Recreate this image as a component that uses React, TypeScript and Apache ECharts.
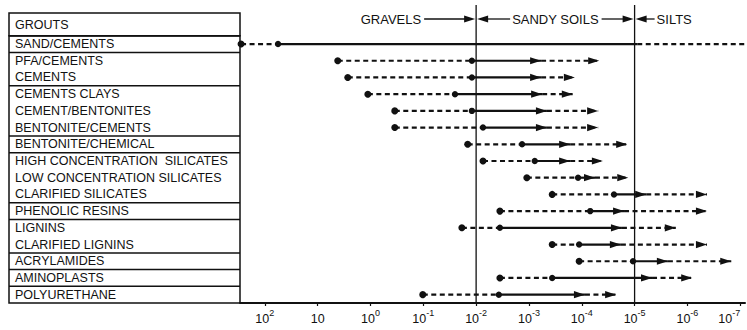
import React, { useEffect, useRef } from "react";
import * as echarts from "echarts";

// Grout types (rows of the table)
const grouts = [
  "SAND/CEMENTS",
  "PFA/CEMENTS",
  "CEMENTS",
  "CEMENTS CLAYS",
  "CEMENT/BENTONITES",
  "BENTONITE/CEMENTS",
  "BENTONITE/CHEMICAL",
  "HIGH CONCENTRATION  SILICATES",
  "LOW CONCENTRATION SILICATES",
  "CLARIFIED SILICATES",
  "PHENOLIC RESINS",
  "LIGNINS",
  "CLARIFIED LIGNINS",
  "ACRYLAMIDES",
  "AMINOPLASTS",
  "POLYURETHANE",
];

// log10 of soil permeability
const rangeStart = [2.45, 0.62, 0.43, 0.05, -0.46, -0.46, -1.84, -2.13, -2.96, -3.44, -2.45, -1.73, -3.44, -3.95, -2.45, -0.99];
const typicalStart = [1.75, -1.92, -1.92, -1.6, -1.92, -2.13, -2.87, -3.11, -3.93, -4.61, -4.16, -2.45, -3.95, -4.97, -3.44, -2.43];
const typicalEnd = [-5.05, -3.23, -3.23, -3.25, -3.34, -3.34, -3.78, -3.78, -4.25, -5.22, -4.8, -4.76, -4.74, -5.63, -5.33, -4.06];
const rangeEnd = [-7.09, -4.33, -3.87, -3.83, -4.31, -4.31, -4.86, -4.4, -4.88, -6.37, -6.37, -5.78, -6.37, -6.83, -6.09, -4.65];
const arrowHeads = [0, 1, 1, 1, 1, 1, 1, 1, 1, 1, 1, 1, 1, 1, 1, 1];

// table rows above which a group line is drawn
const groupBreaks = [0, 1, 3, 6, 7, 10, 11, 13, 14, 15];

const tickExponents = [-7, -6, -5, -4, -3, -2, -1, 0, 1, 2];
const soilZones = ["GRAVELS", "SANDY SOILS", "SILTS"];
const zoneBoundaries = [-2, -5];

const ink = "#111";
const font = "'Liberation Sans', Arial, Helvetica, sans-serif";

function arrowHead(x: number, y: number, dir: number) {
  return {
    type: "polygon",
    shape: {
      points: [
        [x - dir * 11, y - 3.6],
        [x, y],
        [x - dir * 11, y + 3.6],
      ],
    },
    style: { fill: ink },
  };
}

export default function App() {
  const ref = useRef<HTMLDivElement>(null);

  useEffect(() => {
    if (!ref.current) return;
    const chart = echarts.init(ref.current, undefined, { renderer: "svg" });

    const barData = grouts.map((_, i) => [i, rangeStart[i], typicalStart[i], typicalEnd[i], rangeEnd[i], arrowHeads[i]]);

    const option: any = {
      animation: false,
      backgroundColor: "#fff",
      textStyle: { fontFamily: font },
      grid: [
        {
          left: 9, top: 35.7, width: 231, bottom: 27, show: true, borderColor: ink, borderWidth: 1.5,
          backgroundColor: "transparent", containLabel: false, outerBoundsMode: "none",
        },
        { left: 240, top: 35.7, width: 505, bottom: 27, containLabel: false, outerBoundsMode: "none" },
      ],
      xAxis: [
        { gridIndex: 0, type: "value", min: 0, max: 1, show: false },
        {
          gridIndex: 1,
          type: "value",
          min: -7.09,
          max: 2.47,
          inverse: true,
          axisLine: { show: true, onZero: false, lineStyle: { color: ink, width: 2 } },
          axisTick: { show: true, customValues: tickExponents, length: 3, lineStyle: { color: ink, width: 1.2 } },
          splitLine: { show: false },
          axisLabel: {
            customValues: tickExponents,
            margin: 5,
            hideOverlap: false,
            showMaxLabel: true,
            showMinLabel: true,
            alignMinLabel: "right",
            formatter: (v: number) => {
              const e = Math.round(v);
              return e === 1 ? "{b|10}" : `{b|10}{s|${e}}`;
            },
            rich: {
              b: { fontSize: 12.5, color: ink, fontFamily: font, lineHeight: 17, verticalAlign: "bottom" },
              s: { fontSize: 9, color: ink, fontFamily: font, verticalAlign: "top" },
            },
          },
        },
      ],
      yAxis: [
        {
          gridIndex: 0,
          type: "category",
          data: grouts,
          inverse: true,
          axisLine: { show: false },
          axisTick: { show: false },
          splitLine: { show: false },
          axisLabel: { inside: true, interval: 0, margin: 6, fontSize: 12.5, color: ink, fontFamily: font },
        },
        {
          gridIndex: 1, type: "category", data: grouts, inverse: true, show: false,
          axisLabel: { show: false }, axisLine: { show: false }, axisTick: { show: false },
        },
      ],
      series: [
        {
          type: "custom",
          name: "table lines",
          xAxisIndex: 0,
          yAxisIndex: 0,
          data: groupBreaks.map((k) => [0, k]),
          encode: { x: 0, y: 1 },
          renderItem: (params: any, api: any) => {
            const k = api.value(1);
            const c = api.coord([0, k]);
            const band = api.size([0, 1])[1];
            const y = c[1] - band / 2;
            const cs = params.coordSys;
            return {
              type: "line",
              shape: { x1: cs.x, y1: y, x2: cs.x + cs.width, y2: y },
              style: { stroke: ink, lineWidth: 1.5 },
            };
          },
        },
        {
          type: "custom",
          name: "zone boundaries",
          xAxisIndex: 1,
          yAxisIndex: 1,
          data: zoneBoundaries.map((v) => [v, 0]),
          encode: { x: 0, y: 1 },
          renderItem: (params: any, api: any) => {
            const x = api.coord([api.value(0), 0])[0];
            const cs = params.coordSys;
            return {
              type: "group",
              children: [
                { type: "line", shape: { x1: x, y1: 5, x2: x, y2: cs.y + cs.height }, style: { stroke: ink, lineWidth: 1.3 } },
                arrowHead(x - 1, 19, 1),
                arrowHead(x + 1, 19, -1),
              ],
            };
          },
        },
        {
          type: "custom",
          name: "grout ranges",
          xAxisIndex: 1,
          yAxisIndex: 1,
          data: barData,
          encode: { x: [1, 2, 3, 4], y: 0 },
          renderItem: (params: any, api: any) => {
            const row = api.value(0);
            const y = api.coord([0, row])[1];
            const xs = [1, 2, 3, 4].map((d) => api.coord([api.value(d), row])[0]);
            const withArrows = api.value(5) === 1;
            const dash = [5, 3.5];
            const children: any[] = [
              { type: "line", shape: { x1: xs[0], y1: y, x2: xs[1], y2: y }, style: { stroke: ink, lineWidth: 2.2, lineDash: dash } },
              { type: "line", shape: { x1: xs[1], y1: y, x2: xs[2], y2: y }, style: { stroke: ink, lineWidth: 2.2 } },
              { type: "line", shape: { x1: xs[2], y1: y, x2: xs[3], y2: y }, style: { stroke: ink, lineWidth: 2.2, lineDash: dash } },
              { type: "circle", shape: { cx: xs[0], cy: y, r: 3.5 }, style: { fill: ink } },
              { type: "circle", shape: { cx: xs[1], cy: y, r: 3.2 }, style: { fill: ink } },
            ];
            if (withArrows) {
              children.push(arrowHead(xs[2], y, 1));
              children.push(arrowHead(xs[3], y, 1));
            }
            return { type: "group", children };
          },
        },
      ],
    };

    chart.setOption(option);

    const x1 = chart.convertToPixel({ xAxisIndex: 1 }, zoneBoundaries[0]) as number;
    const x2 = chart.convertToPixel({ xAxisIndex: 1 }, zoneBoundaries[1]) as number;
    const hy = 19;
    const lineStyle = { stroke: ink, lineWidth: 1.3 };
    const textStyle = { fill: ink, fontSize: 13, fontFamily: font, verticalAlign: "middle" };
    chart.setOption({
      graphic: [
        { type: "rect", shape: { x: 9, y: 13, width: 231, height: 22.7 }, style: { fill: "none", stroke: ink, lineWidth: 1.5 } },
        { type: "text", x: 15, y: 25, style: { text: "GROUTS", fill: ink, fontSize: 12.5, fontFamily: font, verticalAlign: "middle" } },
        { type: "text", x: x1 - 55, y: hy, style: { ...textStyle, text: soilZones[0], align: "right" } },
        { type: "line", shape: { x1: x1 - 52, y1: hy, x2: x1 - 8, y2: hy }, style: lineStyle },
        { type: "line", shape: { x1: x1 + 8, y1: hy, x2: x1 + 34, y2: hy }, style: lineStyle },
        { type: "text", x: (x1 + x2) / 2, y: hy, style: { ...textStyle, text: soilZones[1], align: "center" } },
        { type: "line", shape: { x1: x2 - 33, y1: hy, x2: x2 - 8, y2: hy }, style: lineStyle },
        { type: "line", shape: { x1: x2 + 8, y1: hy, x2: x2 + 20, y2: hy }, style: lineStyle },
        { type: "text", x: x2 + 22, y: hy, style: { ...textStyle, text: soilZones[2], align: "left" } },
      ],
    });

    return () => chart.dispose();
  }, []);

  return <div ref={ref} style={{ position: "fixed", left: 0, top: 0, width: 747, height: 330 }} />;
}
